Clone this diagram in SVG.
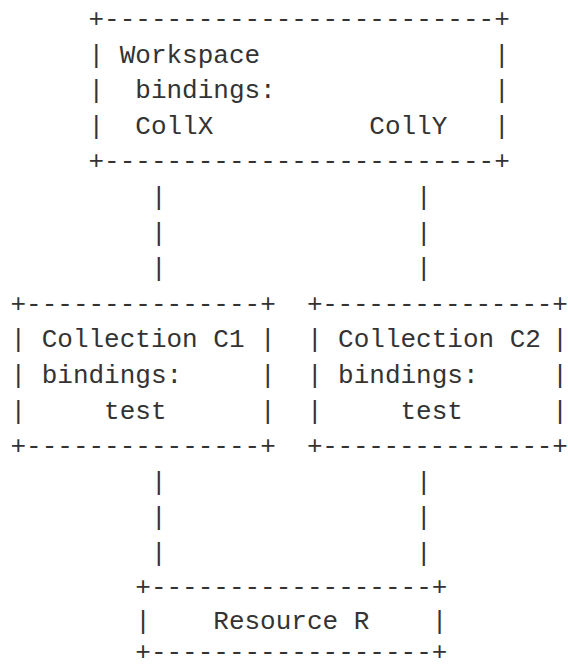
<svg xmlns="http://www.w3.org/2000/svg" width="568" height="668" viewBox="0 0 568 668">
<style>
text{font-family:"Liberation Mono","DejaVu Sans Mono",monospace;font-size:26px;fill:#333}
</style>
<rect width="568" height="668" fill="#fff"/>
<g id="workspace">
<text x="88.5" y="27">+-------------------------+</text>
<text x="88.5" y="62.6">|</text><text x="119.7" y="62.6">Workspace</text><text x="494.1" y="62.6">|</text>
<text x="88.5" y="98.2">|</text><text x="135.3" y="98.2">bindings:</text><text x="494.1" y="98.2">|</text>
<text x="88.5" y="133.8">|</text><text x="135.3" y="133.8">CollX</text><text x="369.3" y="133.8">CollY</text><text x="494.1" y="133.8">|</text>
<text x="88.5" y="169.4">+-------------------------+</text>
</g>
<g id="collection-c1">
<text x="10.5" y="311.8">+---------------+</text>
<text x="10.5" y="347.4">|</text><text x="41.7" y="347.4">Collection C1</text><text x="260.1" y="347.4">|</text>
<text x="10.5" y="383">|</text><text x="41.7" y="383">bindings:</text><text x="260.1" y="383">|</text>
<text x="10.5" y="418.6">|</text><text x="104.1" y="418.6">test</text><text x="260.1" y="418.6">|</text>
<text x="10.5" y="454.2">+---------------+</text>
</g>
<g id="collection-c2">
<text x="306.9" y="311.8" textLength="260.9" lengthAdjust="spacing">+---------------+</text>
<text x="306.9" y="347.4">|</text><text x="338.1" y="347.4">Collection C2</text><text x="552.2" y="347.4">|</text>
<text x="306.9" y="383">|</text><text x="338.1" y="383">bindings:</text><text x="552.2" y="383">|</text>
<text x="306.9" y="418.6">|</text><text x="400.5" y="418.6">test</text><text x="552.2" y="418.6">|</text>
<text x="306.9" y="454.2" textLength="260.9" lengthAdjust="spacing">+---------------+</text>
</g>
<g id="resource-r">
<text x="135.3" y="595">+------------------+</text>
<text x="135.3" y="629">|</text><text x="213.3" y="629">Resource R</text><text x="431.7" y="629">|</text>
<text x="135.3" y="660">+------------------+</text>
</g>
<g id="connectors">
<text x="150.9" y="205">|</text><text x="150.9" y="240.6">|</text><text x="150.9" y="276.2">|</text>
<text x="416.1" y="205">|</text><text x="416.1" y="240.6">|</text><text x="416.1" y="276.2">|</text>
<text x="150.9" y="489.8">|</text><text x="150.9" y="525.4">|</text><text x="150.9" y="561">|</text>
<text x="416.1" y="489.8">|</text><text x="416.1" y="525.4">|</text><text x="416.1" y="561">|</text>
</g>
</svg>
